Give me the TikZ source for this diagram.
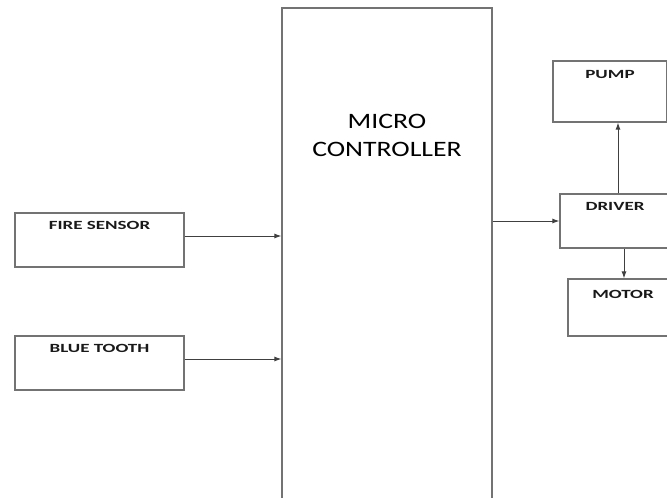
\documentclass[tikz,border=0pt]{standalone}
\usepackage{fontspec}
\usetikzlibrary{arrows.meta}
\setmainfont{Carlito}
\newfontfamily\widelbl[FakeStretch=1.52]{Carlito}
\newfontfamily\widemc[FakeStretch=1.26]{Carlito}
\begin{document}
\begin{tikzpicture}[>={Latex[length=7pt,width=5pt]}, x=1pt, y=-1pt,
    blk/.style={draw=black!55, line width=1.2pt, inner sep=0pt},
    lbl/.style={font=\widelbl\bfseries\fontsize{12.5}{14}\selectfont, text=black!90, inner sep=0pt},
    con/.style={->, draw=black!75, line width=1pt}]
    \useasboundingbox (0,0) rectangle (667,498);
    \clip (0,0) rectangle (667,498);
    \node[blk, minimum width=210pt, minimum height=502pt] (mc) at (387,259) {};
    \node[font=\widemc\fontsize{22}{28}\selectfont, text=black, align=center, inner sep=0pt] (mctxt) at (387,135.7) {MICRO\\CONTROLLER};
    \node[blk, minimum width=169pt, minimum height=54pt] (fire) at (99.5,240) {};
    \node[lbl] (firetxt) at ([yshift=-13.3pt]fire.north) {FIRE SENSOR};
    \node[blk, minimum width=169pt, minimum height=54pt] (blue) at (99.5,363) {};
    \node[lbl] (bluetxt) at ([yshift=-13.3pt]blue.north) {BLUE TOOTH};
    \node[blk, minimum width=114pt, minimum height=61pt] (pump) at (610,91.5) {};
    \node[lbl] (pumptxt) at ([yshift=-14.3pt]pump.north) {PUMP};
    \node[blk, minimum width=110pt, minimum height=54pt] (driver) at (615,221) {};
    \node[lbl] (drivertxt) at ([yshift=-13.3pt]driver.north) {DRIVER};
    \node[blk, minimum width=110pt, minimum height=57pt] (motor) at (623,307.5) {};
    \node[lbl] (motortxt) at ([yshift=-15.7pt]motor.north) {MOTOR};
    \draw[con] ([yshift=4pt]fire.east) -- ([yshift=4pt]fire.east -| mc.west);
    \draw[con] ([yshift=4pt]blue.east) -- ([yshift=4pt]blue.east -| mc.west);
    \draw[con] (driver.west -| mc.east) -- (driver.west);
    \draw[con] ([xshift=3pt]driver.north) -- ([xshift=3pt]driver.north |- pump.south);
    \draw[con] ([xshift=9pt]driver.south) -- ([xshift=9pt]driver.south |- motor.north);
\end{tikzpicture}
\end{document}
